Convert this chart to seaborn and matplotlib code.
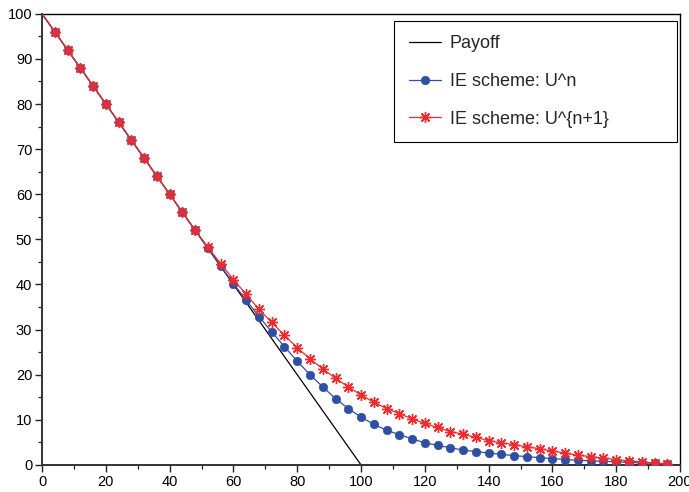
import numpy as np
import pandas as pd
import matplotlib
matplotlib.use("Agg")
import matplotlib.pyplot as plt
import seaborn as sns
from matplotlib.ticker import MultipleLocator

# ---- data ----
x_vals = list(range(0, 200, 4))
payoff_x = [0, 100, 200]
payoff_y = [100, 0, 0]
u_n = [100, 96, 92, 88, 84, 80, 76, 72, 68, 64, 60, 56, 52, 48.05, 44.1, 40.2,
       36.5, 32.9, 29.5, 26.2, 23.0, 20.0, 17.3, 14.7, 12.5, 10.6, 9.0, 7.7,
       6.7, 5.8, 4.9, 4.35, 3.8, 3.3, 2.95, 2.65, 2.35, 2.05, 1.85, 1.6, 1.4,
       1.2, 1.05, 0.9, 0.8, 0.7, 0.55, 0.45, 0.35, 0.25]
u_n1 = [100, 96, 92, 88, 84, 80, 76, 72, 68, 64, 60, 56, 52, 48.3, 44.6, 41.1,
        37.8, 34.5, 31.6, 28.7, 26.0, 23.5, 21.3, 19.2, 17.3, 15.5, 13.9, 12.5,
        11.4, 10.2, 9.2, 8.3, 7.4, 6.8, 6.1, 5.4, 4.9, 4.5, 4.0, 3.6, 3.1, 2.6,
        2.15, 1.85, 1.5, 1.2, 0.9, 0.65, 0.45, 0.25]
labels = ["Payoff", "IE scheme: U^n", "IE scheme: U^{n+1}"]

sns.set_theme(style="ticks")
plt.rcParams['font.family'] = ['Liberation Sans', 'DejaVu Sans']

fig = plt.figure(figsize=(6.89, 4.92), dpi=100)
ax = fig.add_axes([0.061, 0.055, 0.926, 0.917])

df_pay = pd.DataFrame({"x": payoff_x, "y": payoff_y})
df_un = pd.DataFrame({"x": x_vals, "y": u_n})
df_un1 = pd.DataFrame({"x": x_vals, "y": u_n1})

blue = "#2f4fa2"
red = "#ee2b2f"

sns.lineplot(data=df_pay, x="x", y="y", ax=ax, color="black", lw=0.9,
             label=labels[0], zorder=2)
sns.lineplot(data=df_un, x="x", y="y", ax=ax, color=blue, lw=0.9,
             marker="o", markersize=6.3, markeredgewidth=0.3,
             markeredgecolor=blue, markevery=list(range(1, len(x_vals))),
             label=labels[1], zorder=3)
sns.lineplot(data=df_un1, x="x", y="y", ax=ax, color=red, lw=0.9,
             marker=(8, 2, 0), markersize=8, markeredgewidth=1.0,
             markeredgecolor=red, markevery=list(range(1, len(x_vals))),
             label=labels[2], zorder=4)

ax.set_xlim(0, 200)
ax.set_ylim(0, 100)
ax.set_xlabel("")
ax.set_ylabel("")
ax.xaxis.set_major_locator(MultipleLocator(20))
ax.xaxis.set_minor_locator(MultipleLocator(10))
ax.yaxis.set_major_locator(MultipleLocator(10))
ax.yaxis.set_minor_locator(MultipleLocator(5))
ax.tick_params(which="major", direction="out", length=5, width=1.0,
               labelsize=10.5, colors="#222222", labelcolor="black", pad=2)
ax.tick_params(which="minor", direction="out", length=3, width=0.9,
               colors="#222222")
ax.tick_params(top=False, right=False, which="both")
for s in ["top", "right"]:
    ax.spines[s].set_visible(True)
    ax.spines[s].set_linewidth(1.0)
    ax.spines[s].set_color("black")
for s in ["bottom", "left"]:
    ax.spines[s].set_linewidth(1.4)
    ax.spines[s].set_color("#333333")

leg = ax.legend(loc="upper left", bbox_to_anchor=(0.552, 0.7228, 0.4436, 0.2617),
                mode="expand", borderaxespad=0,
                fontsize=13.0, frameon=True, fancybox=False,
                edgecolor="black", framealpha=1, handlelength=1.78,
                labelspacing=1.15, borderpad=0.8, handletextpad=0.5)
leg.get_frame().set_linewidth(0.8)

fig.savefig("out.png", dpi=100)
